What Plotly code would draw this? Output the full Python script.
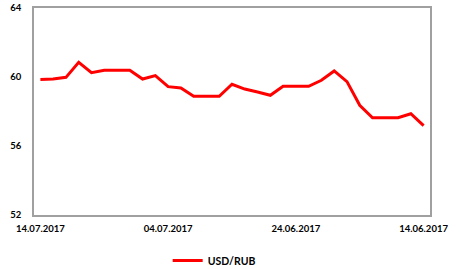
import plotly.graph_objects as go
import pandas as pd

dates = [d.strftime("%d.%m.%Y") for d in pd.date_range("2017-06-14", "2017-07-14")][::-1]
usd_rub = [59.86, 59.88, 59.98, 60.85, 60.25, 60.39, 60.39, 60.39, 59.88, 60.08,
           59.44, 59.36, 58.88, 58.88, 58.88, 59.58, 59.30, 59.13, 58.94, 59.46,
           59.46, 59.46, 59.81, 60.35, 59.73, 58.36, 57.64, 57.64, 57.64, 57.87,
           57.18]
x_ticks = ["14.07.2017", "04.07.2017", "24.06.2017", "14.06.2017"]
y_ticks = [52, 56, 60, 64]

tick_fnt = dict(family="Lato", size=9.5, color="#000000", weight="bold")
leg_fnt = dict(family="Lato", size=10.5, color="#000000", weight="bold")

fig = go.Figure()
fig.add_trace(go.Scatter(x=dates, y=usd_rub, mode="lines", name="USD/RUB",
                         line=dict(color="#ff0000", width=3)))

fig.update_layout(
    width=460, height=269,
    margin=dict(l=34, r=30, t=8, b=54, autoexpand=False),
    paper_bgcolor="white", plot_bgcolor="white",
    showlegend=True,
    legend=dict(orientation="h", x=0.455, xanchor="center", y=-0.15, yanchor="top",
                font=leg_fnt, itemwidth=30),
    font=tick_fnt,
)
fig.update_xaxes(type="category", tickmode="array", tickvals=x_ticks, ticktext=x_ticks,
                 range=[-0.5, len(dates) - 0.5], showgrid=False, showline=True,
                 linecolor="#a0a0a0", linewidth=1.5, mirror=True, ticks="outside",
                 ticklen=4, tickcolor="rgba(0,0,0,0)", tickfont=tick_fnt, zeroline=False,
                 automargin=False, tickangle=0)
fig.update_yaxes(range=[52, 64], tickmode="array", tickvals=y_ticks, showgrid=False,
                 showline=True, linecolor="#a0a0a0", linewidth=1.5, mirror=True,
                 ticks="outside", ticklen=9, tickcolor="rgba(0,0,0,0)", tickfont=tick_fnt,
                 zeroline=False, automargin=False)

fig.write_html("out.html", config={"displayModeBar": False},
               post_script="document.body.style.margin='0';document.body.style.overflow='hidden';")
